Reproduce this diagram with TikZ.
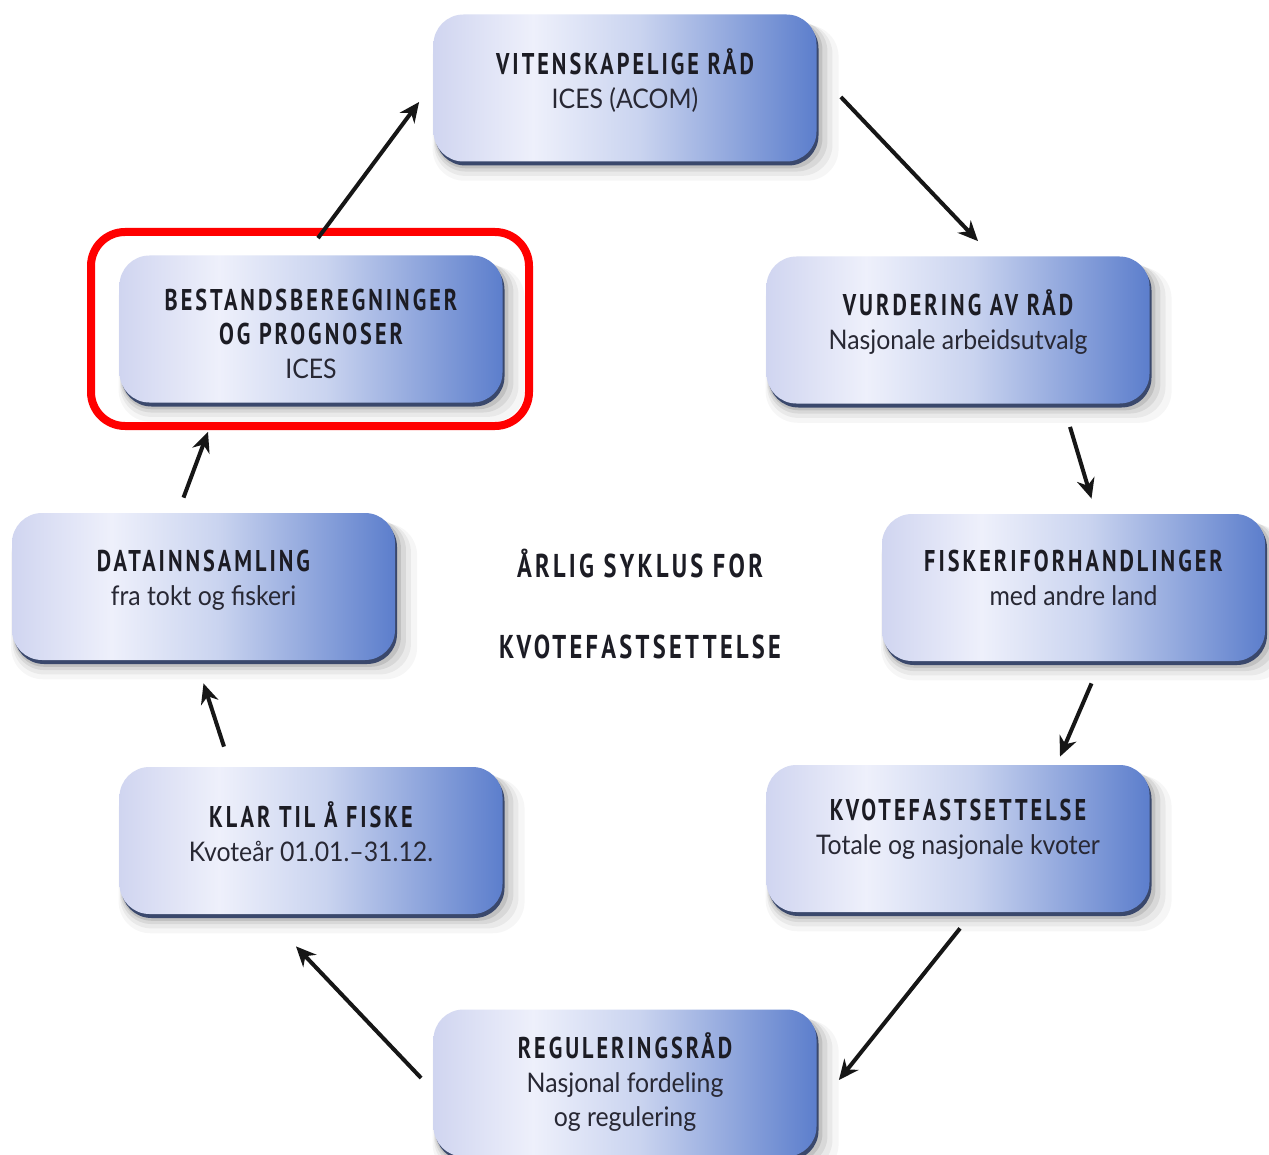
\documentclass[tikz,border=0pt]{standalone}
\usepackage{fontspec}
\setmainfont{PT Sans}
\newfontfamily\titlefont[FakeStretch=0.74,LetterSpace=10]{PT Sans}
\newfontfamily\subfontfam[FakeStretch=0.92]{Lato}
\usetikzlibrary{arrows.meta,shadows}
\definecolor{boxL}{RGB}{208,213,240}
\definecolor{boxM}{RGB}{238,240,251}
\definecolor{boxR}{RGB}{92,126,204}
\definecolor{rim}{RGB}{58,72,108}
\definecolor{ink}{RGB}{28,28,36}
\definecolor{subink}{RGB}{40,40,52}
\definecolor{arrowink}{RGB}{22,22,22}
\definecolor{hlred}{RGB}{255,0,0}
\pgfdeclarehorizontalshading{boxshade}{100bp}{color(0bp)=(boxL); color(25bp)=(boxL); color(38bp)=(boxM); color(52bp)=(boxM!75!boxR); color(75bp)=(boxR); color(100bp)=(boxR)}
\newcommand{\ttl}[1]{{\titlefont\bfseries\fontsize{15}{17}\selectfont\color{ink}#1}}
\newcommand{\sbt}[1]{{\subfontfam\fontsize{13.5}{17}\selectfont\color{subink}#1}}
\newcommand{\ctr}[1]{{\titlefont\bfseries\fontsize{16.5}{18}\selectfont\color{ink}#1}}
\begin{document}
\begin{tikzpicture}[x=0.5pt,y=-0.5pt,
  card/.style={rectangle, rounded corners=15pt, minimum width=191.5pt, minimum height=73.5pt, inner sep=0pt,
    general shadow={shadow xshift=5pt, shadow yshift=-7pt, shadow scale=1.06, fill=black, fill opacity=0.035},
    general shadow={shadow xshift=4pt, shadow yshift=-5.5pt, shadow scale=1.04, fill=black, fill opacity=0.05},
    general shadow={shadow xshift=3pt, shadow yshift=-4pt, shadow scale=1.025, fill=black, fill opacity=0.07},
    general shadow={shadow xshift=2pt, shadow yshift=-3pt, shadow scale=1.01, fill=black, fill opacity=0.1},
    general shadow={shadow xshift=1pt, shadow yshift=-2pt, shadow scale=1.0, fill=rim},
    shading=boxshade},
  txt/.style={align=center, inner sep=0pt, font=\fontsize{15}{17}\selectfont},
  arr/.style={line width=2pt, draw=arrowink, -{Stealth[length=10pt,width=9pt]}},
  hilite/.style={rectangle, draw=hlred, line width=4pt, rounded corners=17pt, minimum width=219pt, minimum height=97pt, inner sep=0pt}
]
\useasboundingbox (0,0) rectangle (1269,1155);
\clip (0,0) rectangle (1269,1155);
\fill[white] (0,0) rectangle (1269,1155);

% boxes
\node[card] (b1) at (625,88) {};
\node[card] (b2) at (958,330) {};
\node[card] (b3) at (1073.5,587.5) {};
\node[card] (b4) at (958,838.5) {};
\node[card] (b5) at (625,1083) {};
\node[card] (b6) at (311,840.5) {};
\node[card] (b7) at (203.5,586.5) {};
\node[card] (b8) at (311,329) {};

% texts
\node[txt] (t1) at ([shift={(0,-7.5)}]b1.center) {\ttl{VITENSKAPELIGE RÅD}\\\sbt{ICES (ACOM)}};
\node[txt] (t2) at ([shift={(0,-8)}]b2.center) {\ttl{VURDERING AV RÅD}\\\sbt{Nasjonale arbeidsutvalg}};
\node[txt] (t3) at ([shift={(0,-9.5)}]b3.center) {\ttl{FISKERIFORHANDLINGER}\\\sbt{med andre land}};
\node[txt] (t4) at ([shift={(0,-9)}]b4.center) {\ttl{KVOTEFASTSETTELSE}\\\sbt{Totale og nasjonale kvoter}};
\node[txt] (t5) at ([shift={(0,-1)}]b5.center) {\ttl{REGULERINGSRÅD}\\\sbt{Nasjonal fordeling}\\\sbt{og regulering}};
\node[txt] (t6) at ([shift={(0,-8.5)}]b6.center) {\ttl{KLAR TIL Å FISKE}\\\sbt{Kvoteår 01.01.–31.12.}};
\node[txt] (t7) at ([shift={(0,-6.5)}]b7.center) {\ttl{DATAINNSAMLING}\\\sbt{fra tokt og fiskeri}};
\node[txt] (t8) at ([shift={(0,5)}]b8.center) {\ttl{BESTANDSBEREGNINGER}\\\ttl{OG PROGNOSER}\\\sbt{ICES}};

% centre title
\node[txt] (c1) at (640,564) {\ctr{ÅRLIG SYKLUS FOR}};
\node[txt] (c2) at (640,647) {\ctr{KVOTEFASTSETTELSE}};

% highlight
\node[hilite] (hl) at (310,329) {};

% arrows
\draw[arr] ([shift={(7,-17)}]b8.north) -- ([shift={(-14,14)}]b1.west);
\draw[arr] ([shift={(24,9)}]b1.east) -- ([shift={(20,-15)}]b2.north);
\draw[arr] ([shift={(112,23)}]b2.south) -- ([shift={(18,-15)}]b3.north);
\draw[arr] ([shift={(18,22)}]b3.south) -- ([shift={(102,-8)}]b4.north);
\draw[arr] ([shift={(2,16)}]b4.south) -- ([shift={(22,-3)}]b5.east);
\draw[arr] ([shift={(-12,-5)}]b5.west) -- ([shift={(-15,32)}]b6.south);
\draw[arr] ([shift={(-87,-20)}]b6.north) -- ([shift={(0,23)}]b7.south);
\draw[arr] ([shift={(-20,-15)}]b7.north) -- ([shift={(-103,29)}]b8.south);
\end{tikzpicture}
\end{document}
